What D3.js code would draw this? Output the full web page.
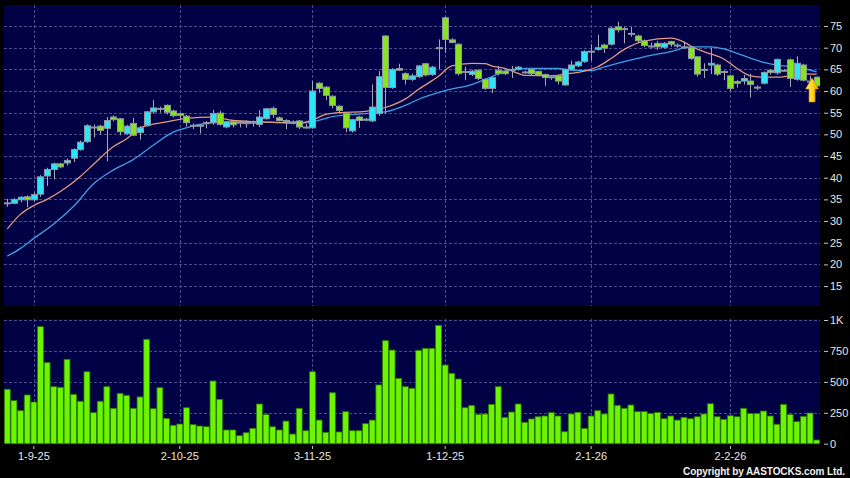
<!DOCTYPE html>
<html>
<head>
<meta charset="utf-8">
<script src="https://cdn.jsdelivr.net/npm/d3@7"></script>
<style>
  body { margin: 0; background: #000; }
  svg { display: block; font-family: "Liberation Sans", Arial, sans-serif; }
</style>
</head>
<body>
<svg id="chart" width="850" height="478"></svg>
<script>
// daily bars, oldest first (123 sessions)
const opens = [34.2,34.1,34.9,35.6,34.9,36.2,40.4,41.9,43.2,43.4,
  44.5,46.5,48.3,51.7,51.9,51.4,54.0,53.6,50.2,52.5,
  50.4,52.1,55.2,56.0,56.7,55.4,54.8,54.2,52.1,52.1,
  52.6,52.7,54.9,51.7,52.9,52.8,52.6,52.8,52.3,53.6,
  56.0,53.8,53.2,52.9,53.1,51.7,51.5,61.8,60.9,58.8,
  56.5,54.8,50.8,54.0,53.5,53.1,54.8,72.7,60.8,65.2,
  64.0,62.7,63.3,66.3,63.8,70.0,76.9,71.8,70.8,64.5,
  63.8,64.8,62.7,60.6,64.8,64.6,65.0,65.0,64.4,65.0,
  64.5,63.8,63.3,63.5,61.4,65.0,65.8,66.8,69.2,69.6,
  70.6,70.8,74.8,74.4,73.3,72.7,71.6,70.4,71.0,70.1,
  71.4,70.6,70.2,70.0,67.9,65.0,66.0,66.0,64.5,63.5,
  62.2,62.3,62.3,60.9,61.8,64.8,64.2,64.8,67.2,62.7,
  66.0,62.3,63.2];
const highs = [35.1,35.3,35.7,35.9,36.6,40.6,42.3,43.5,43.4,44.4,
  46.8,48.6,52.3,52.3,52.2,54.0,54.4,53.8,52.2,53.8,
  51.9,55.4,57.9,56.4,56.9,55.7,55.0,54.5,52.5,52.4,
  53.1,55.7,55.4,53.1,53.2,53.1,53.2,53.2,55.6,56.1,
  56.4,54.1,53.5,53.2,53.3,52.4,62.3,62.0,61.1,59.0,
  56.7,55.0,53.6,54.3,53.8,61.5,64.6,72.9,65.3,66.3,
  64.3,64.0,66.0,66.5,65.8,71.9,77.2,72.2,71.0,65.6,
  64.9,65.0,62.9,63.3,65.8,64.8,65.8,65.8,64.7,65.2,
  64.7,64.0,63.6,63.7,65.2,67.0,67.0,69.4,70.8,73.0,
  70.9,74.8,76.0,74.8,74.8,73.0,71.9,71.2,71.5,71.3,
  71.6,71.0,71.4,70.3,68.1,66.4,70.0,66.3,64.8,63.8,
  62.5,63.7,64.0,61.3,64.5,65.0,67.5,65.1,67.5,68.0,
  66.3,63.5,63.4];
const lows = [33.3,33.9,34.3,33.2,34.5,35.6,38.1,39.6,42.2,42.8,
  43.6,46.2,48.0,49.3,50.0,43.8,53.0,49.8,49.9,49.6,
  48.8,51.8,54.8,55.0,54.6,53.9,53.5,51.8,51.2,50.2,
  51.4,52.2,52.0,51.4,51.6,51.6,51.5,51.8,51.7,53.4,
  53.8,53.0,51.2,52.3,51.2,51.3,51.3,59.6,57.9,56.0,
  55.0,50.5,50.4,51.5,53.0,52.8,54.3,54.8,60.5,64.6,
  61.5,62.3,63.0,63.4,63.5,65.0,68.8,71.0,63.6,62.5,
  63.5,62.5,60.3,59.5,63.6,63.7,63.0,64.7,64.0,63.6,
  63.4,61.2,62.6,61.5,61.2,64.8,65.5,66.5,67.0,69.3,
  68.8,70.5,73.5,71.0,72.5,71.3,70.1,69.8,69.5,69.8,
  70.2,70.0,69.8,67.2,63.3,63.0,63.9,63.5,62.5,60.0,
  60.8,61.5,58.5,60.2,61.5,63.8,63.8,64.5,60.9,62.4,
  62.2,62.0,61.0];
const closes = [34.2,35.0,35.5,34.9,36.1,40.2,41.9,43.2,42.5,44.0,
  46.5,48.2,52.0,51.7,50.9,53.2,53.4,50.6,51.9,49.8,
  51.5,55.2,56.1,56.0,55.1,54.3,54.4,52.7,52.1,52.1,
  52.7,54.8,52.3,52.9,52.2,52.8,52.7,52.8,54.0,55.9,
  54.6,53.2,53.2,52.9,51.7,51.7,60.0,60.6,59.0,56.7,
  55.5,51.5,53.4,53.2,53.5,56.3,63.3,60.8,65.0,64.8,
  62.7,63.5,65.8,63.7,65.5,70.0,71.9,71.2,64.0,64.3,
  64.6,62.9,60.6,63.1,64.0,64.0,65.0,65.5,64.4,64.0,
  63.7,63.1,63.3,62.3,65.0,66.0,66.7,69.1,69.2,70.0,
  69.9,74.5,74.1,74.2,73.3,71.6,70.5,70.4,70.2,71.0,
  70.8,70.4,70.2,67.5,63.9,65.0,66.4,63.9,64.5,60.6,
  61.8,62.9,61.5,60.9,64.3,64.3,67.3,64.8,62.9,66.4,
  62.5,62.3,61.2];
// volume in thousands of shares
const volumes = [440,348,267,394,337,946,655,461,456,682,
  399,343,582,251,343,461,286,407,391,286,
  378,844,283,453,205,149,159,291,154,143,
  137,507,359,111,111,65,89,124,321,235,
  137,111,183,78,286,105,582,191,92,412,
  95,259,105,105,162,191,475,833,757,528,
  461,448,755,771,771,957,636,569,523,291,
  310,237,240,318,461,213,256,321,173,200,
  218,224,251,224,97,240,254,124,224,267,
  240,402,310,286,313,259,259,243,253,202,
  224,191,213,202,218,240,323,218,197,226,
  218,286,243,245,264,224,157,318,235,178,
  221,248,30];

// moving averages: [session index, value]
const maShort = [[0,28.2],[2,31.6],[4,33.6],[6,35.0],[8,36.8],[11,40.3],[13,43.1],[16,47.2],
  [18,49.0],[20,51.5],[24,52.9],[27,53.7],[31,54.0],[34,53.2],[38,52.9],[44,52.6],[46,53.3],
  [48,54.6],[50,55.0],[54,55.3],[57,56.2],[60,58.2],[62,60.4],[65,63.4],[67,65.8],[70,66.4],
  [72,66.3],[73,65.8],[75,65.2],[77,64.1],[78,63.6],[82,63.5],[84,63.9],[87,64.6],[89,65.6],
  [91,67.5],[93,69.6],[96,71.5],[100,72.2],[102,71.3],[103,70.4],[105,69.1],[108,67.4],
  [110,65.2],[112,63.5],[114,63.2],[116,63.2],[118,63.5],[120,63.9],[122,63.9]];
const maLong = [[0,21.9],[2,23.7],[4,26.0],[7,29.3],[10,33.4],[13,38.6],[16,41.8],[19,44.2],
  [22,47.5],[25,50.5],[27,51.5],[29,52.3],[32,52.8],[38,52.9],[44,52.6],[46,52.9],[49,54.1],
  [54,54.8],[57,55.2],[60,56.7],[62,58.1],[66,60.1],[70,61.5],[73,63.3],[75,64.6],[78,65.2],
  [83,65.2],[85,64.8],[88,64.7],[90,65.6],[93,66.8],[96,67.9],[100,69.1],[103,70.2],[106,70.2],
  [108,69.7],[110,68.7],[112,67.6],[114,66.6],[116,66.0],[118,65.6],[120,65.2],[122,64.4]];

const priceTicks = [15,20,25,30,35,40,45,50,55,60,65,70,75];
const volTicks = [0,250,500,750,1000];
const volTickLabels = ["0","250","500","750","1K"];
const dateIdx = [4,26,46,66,88,109];
const dateLabels = ["1-9-25","2-10-25","3-11-25","1-12-25","2-1-26","2-2-26"];

const svg = d3.select("#chart");
const L = 4, R = 820;
const pTop = 5, pBot = 306, vTop = 319, vBot = 444;
const navy = "#010146";
const gridCol = "#4c4c8c";

const x = d3.scaleBand().domain(d3.range(closes.length)).range([L, R])
  .paddingInner(0.2).paddingOuter(0.1);
const bw = x.bandwidth();
const xc = i => x(i) + bw / 2;
const y = d3.scaleLinear().domain([10.4, 79.85]).range([pBot, pTop]);
const yv = d3.scaleLinear().domain([0, 1000]).range([443.7, 320]);

svg.append("rect").attr("width", 850).attr("height", 478).attr("fill", "#000");
svg.append("rect").attr("x", L).attr("y", pTop).attr("width", R - L).attr("height", pBot - pTop).attr("fill", navy);
svg.append("rect").attr("x", L).attr("y", vTop).attr("width", R - L).attr("height", vBot - vTop).attr("fill", navy);

const defs = svg.append("defs");
defs.append("clipPath").attr("id", "pclip").append("rect")
  .attr("x", L).attr("y", pTop).attr("width", R - L).attr("height", pBot - pTop);
const grad = defs.append("linearGradient").attr("id", "arrowGrad")
  .attr("x1", 0).attr("y1", 0).attr("x2", 1).attr("y2", 0);
grad.append("stop").attr("offset", "0%").attr("stop-color", "#fff27a");
grad.append("stop").attr("offset", "55%").attr("stop-color", "#ffd21c");
grad.append("stop").attr("offset", "100%").attr("stop-color", "#e79a00");

// grid
const grid = svg.append("g").attr("stroke", gridCol).attr("stroke-width", 1)
  .attr("stroke-dasharray", "3,2").attr("shape-rendering", "crispEdges");
grid.selectAll(".hp").data(priceTicks).join("line")
  .attr("x1", L).attr("x2", R).attr("y1", d => Math.round(y(d)) + 0.5).attr("y2", d => Math.round(y(d)) + 0.5);
grid.selectAll(".hv").data(volTicks.slice(1)).join("line")
  .attr("x1", L).attr("x2", R).attr("y1", d => Math.round(yv(d)) + 0.5).attr("y2", d => Math.round(yv(d)) + 0.5);
grid.selectAll(".vp").data(dateIdx).join("line")
  .attr("x1", d => Math.round(xc(d)) + 0.5).attr("x2", d => Math.round(xc(d)) + 0.5)
  .attr("y1", pTop).attr("y2", pBot);
grid.selectAll(".vv").data(dateIdx).join("line")
  .attr("x1", d => Math.round(xc(d)) + 0.5).attr("x2", d => Math.round(xc(d)) + 0.5)
  .attr("y1", vTop).attr("y2", vBot);

// moving averages
const maLine = d3.line().x(d => xc(d[0])).y(d => y(d[1])).curve(d3.curveMonotoneX);
const lines = svg.append("g").attr("clip-path", "url(#pclip)").attr("fill", "none").attr("stroke-width", 1.3);
lines.append("path").attr("d", maLine(maLong)).attr("stroke", "#3f9fe6");
lines.append("path").attr("d", maLine(maShort)).attr("stroke", "#e39a7c");

// candles
const candles = svg.append("g").attr("clip-path", "url(#pclip)");
const idx = d3.range(closes.length);
candles.selectAll(".wick").data(idx).join("line")
  .attr("x1", i => Math.round(xc(i)) + 0.5).attr("x2", i => Math.round(xc(i)) + 0.5)
  .attr("y1", i => y(highs[i])).attr("y2", i => y(lows[i]))
  .attr("stroke", "#a9a9b4").attr("stroke-width", 1);
candles.selectAll(".body").data(idx).join("rect")
  .attr("x", i => Math.round(xc(i)) - 2.5)
  .attr("width", 6)
  .attr("y", i => y(Math.max(opens[i], closes[i])))
  .attr("height", i => Math.max(1, Math.abs(y(opens[i]) - y(closes[i]))))
  .attr("fill", i => {
    const diff = closes[i] - opens[i];
    if (Math.abs(diff) < 0.25) return "#9ea4b0";
    return diff > 0 ? "#2fe4f6" : "#86e51c";
  })
  .attr("stroke", "#8e98a0").attr("stroke-width", 1);

// volume
svg.append("g").selectAll("rect").data(idx).join("rect")
  .attr("x", i => x(i) - 0.3)
  .attr("width", bw + 0.6)
  .attr("y", i => yv(volumes[i]))
  .attr("height", i => yv(0) - yv(volumes[i]))
  .attr("fill", "#6bf500").attr("stroke", "#2f7a00").attr("stroke-width", 0.8);

// last-price arrow marker
const ax = xc(closes.length - 2) + 2, aTop = y(63.0);
svg.append("path")
  .attr("d", `M${ax},${aTop} L${ax + 6.5},${aTop + 11} L${ax + 3},${aTop + 11} L${ax + 3},${aTop + 24}
              L${ax - 3},${aTop + 24} L${ax - 3},${aTop + 11} L${ax - 6.5},${aTop + 11} Z`)
  .attr("fill", "url(#arrowGrad)").attr("stroke", "#c98a00").attr("stroke-width", 0.6);

// axes
const txtCol = "#e6e6e6";
const pAxis = svg.append("g").attr("transform", `translate(824,0)`)
  .call(d3.axisRight(y).tickValues(priceTicks).tickSize(4).tickPadding(2));
const vAxis = svg.append("g").attr("transform", `translate(824,0)`)
  .call(d3.axisRight(yv).tickValues(volTicks).tickSize(4).tickPadding(2)
    .tickFormat((d, i) => volTickLabels[i]));
const dAxis = svg.append("g").attr("transform", `translate(0,446)`)
  .call(d3.axisBottom(x).tickValues(dateIdx).tickSize(3).tickPadding(3)
    .tickFormat((d, i) => dateLabels[i]));
[pAxis, vAxis, dAxis].forEach(g => {
  g.select(".domain").remove();
  g.selectAll("line").attr("stroke", "#c8c8c8");
  g.selectAll("text").attr("fill", txtCol).style("font-size", "11px")
    .style("font-family", '"Liberation Sans", Arial, sans-serif');
});

svg.append("text")
  .attr("x", 845).attr("y", 475).attr("text-anchor", "end")
  .attr("fill", "#f0f0f0").style("font-size", "10px").style("font-weight", "bold")
  .attr("textLength", 162).attr("lengthAdjust", "spacing")
  .text("Copyright by AASTOCKS.com Ltd.");
</script>
</body>
</html>
